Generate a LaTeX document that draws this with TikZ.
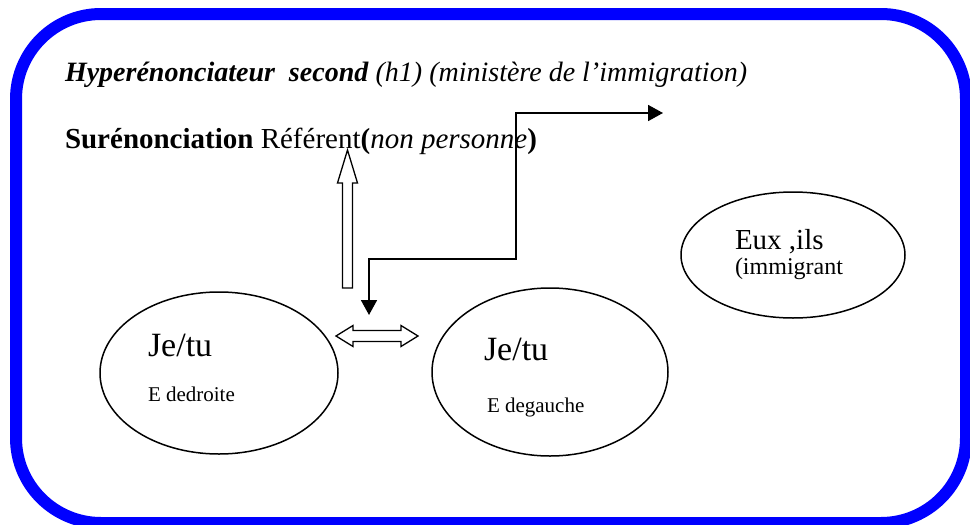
\documentclass[tikz,border=0pt]{standalone}
\usepackage{fontspec}
\setmainfont{Liberation Serif}
\usetikzlibrary{arrows.meta,shapes.geometric}
\definecolor{frameblue}{RGB}{0,0,255}
\begin{document}
\begin{tikzpicture}[x=1pt,y=1pt,
  txt/.style={anchor=base west, inner sep=0pt, outer sep=0pt},
  oval/.style={draw, ellipse, line width=1.5pt, inner sep=0pt},
  blockarrow/.style={draw, line width=1.3pt, fill=white, line join=miter},
  elbow/.style={line width=1.8pt, {Triangle[length=15pt,width=16pt]}-{Triangle[length=15pt,width=16pt]}}]
\useasboundingbox (0,0) rectangle (970,-525);
\clip (0,0) rectangle (970,-525);
% frame
\draw[frameblue, line width=12pt, rounded corners=85pt] (16,-14) rectangle (966,-523);
% header texts
\node[txt] (hyper) at (65,-81) {\fontsize{28}{32}\selectfont\textbf{\textit{Hyperénonciateur\ \ second}} \textit{(h1) (ministère de l’immigration)}};
\node[txt] (sur) at (65,-148) {\fontsize{29}{33}\selectfont\textbf{Surénonciation} Référent\textbf{(}\textit{non personne}\textbf{)}};
% ellipses
\node[oval, minimum width=238pt, minimum height=162pt] (L) at (219,-373) {};
\node[oval, minimum width=236pt, minimum height=168pt] (M) at (550,-372) {};
\node[oval, minimum width=224pt, minimum height=126pt] (R) at (793,-255) {};
\node[txt] (Lt1) at (148,-356) {\fontsize{34}{38}\selectfont Je/tu};
\node[txt] (Lt2) at (148,-401) {\fontsize{21}{24}\selectfont E dedroite};
\node[txt] (Mt1) at (484,-360) {\fontsize{34}{38}\selectfont Je/tu};
\node[txt] (Mt2) at (487,-412) {\fontsize{21}{24}\selectfont E degauche};
\node[txt] (Rt1) at (735,-249) {\fontsize{29}{33}\selectfont Eux ,ils};
\node[txt] (Rt2) at (735,-274) {\fontsize{24}{28}\selectfont (immigrant};
% hollow up arrow
\draw[blockarrow] (342.5,-288) -- (342.5,-183) -- (337.5,-183) -- (347.5,-150) -- (357.5,-183) -- (352.5,-183) -- (352.5,-288) -- cycle;
% hollow double arrow
\draw[blockarrow] (336,-336) -- (353,-325.5) -- (353,-330.5) -- (401,-330.5) -- (401,-325.5) -- (418,-336) -- (401,-346.5) -- (401,-341.5) -- (353,-341.5) -- (353,-346.5) -- cycle;
% elbow connector
\coordinate (e1) at (663,-113);
\coordinate (bend) at (516,-259);
\coordinate (e2) at (369,-315);
\draw[elbow] (e1) -| (bend) -| (e2);
\end{tikzpicture}
\end{document}
